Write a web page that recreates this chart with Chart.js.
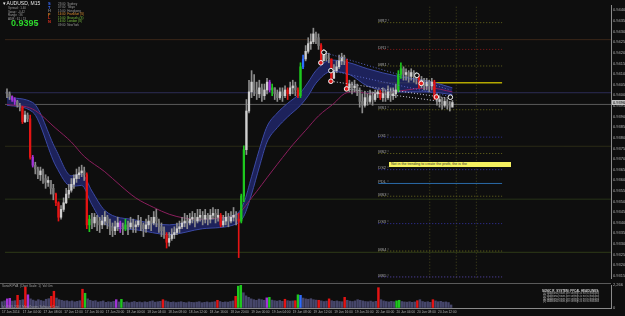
<!DOCTYPE html>
<html><head><meta charset="utf-8">
<script src="https://cdn.jsdelivr.net/npm/chart.js@4.4.1/dist/chart.umd.min.js"></script>
<style>
html,body{margin:0;padding:0;background:#0e0e0e;overflow:hidden;width:625px;height:316px;}
#wrap{position:relative;width:625px;height:316px;font-family:"Liberation Sans","DejaVu Sans",sans-serif;}
#main{position:absolute;left:0;top:0;}
#vol{position:absolute;left:0;top:283px;}
#sep{position:absolute;left:0;top:283px;width:611px;height:1px;background:#5a5a5a;}
.t{position:absolute;white-space:nowrap;line-height:1;}
</style></head><body>
<div id="wrap">
<canvas id="main" width="625" height="283"></canvas>
<canvas id="vol" width="625" height="33"></canvas>
<div id="sep"></div>

<div class="t" style="left:3px;top:1px;font-size:5px;color:#e6e6e6">▾ AUDUSD, M15</div>
<div class="t" style="left:8px;top:7px;font-size:3px;color:#9a9a9a">Spread : 1.40</div>
<div class="t" style="left:8px;top:10.5px;font-size:3px;color:#9a9a9a">Swap : -0.42</div>
<div class="t" style="left:8px;top:14px;font-size:3px;color:#9a9a9a">Range : 36</div>
<div class="t" style="left:8px;top:17.5px;font-size:3px;color:#9a9a9a">ADR : 61 / 13</div>
<div class="t" style="left:11px;top:19px;font-size:9px;font-weight:bold;color:#2bd62b;font-family:'Liberation Sans Narrow','Liberation Sans',sans-serif">0.9395</div>
<div class="t" style="left:35px;top:22px;font-size:4px;color:#d0d0d0">↑</div>
<div class="t" style="left:48px;top:2px;font-size:4px;font-weight:bold;color:#3a6cff">S</div>
<div class="t" style="left:48px;top:5.5px;font-size:4px;font-weight:bold;color:#3a6cff">T</div>
<div class="t" style="left:48px;top:9px;font-size:4px;font-weight:bold;color:#7a7a7a">H</div>
<div class="t" style="left:48px;top:12.5px;font-size:4px;font-weight:bold;color:#e08020">F</div>
<div class="t" style="left:48px;top:16px;font-size:4px;font-weight:bold;color:#e03020">L</div>
<div class="t" style="left:48px;top:19.5px;font-size:4px;font-weight:bold;color:#e03020">N</div>
<div class="t" style="left:58px;top:2.5px;font-size:3px;color:#9a9a9a">23:00 &nbsp;Sydney</div>
<div class="t" style="left:58px;top:6px;font-size:3px;color:#9a9a9a">07:00 &nbsp;Tokyo</div>
<div class="t" style="left:58px;top:9.5px;font-size:3px;color:#9a9a9a">15:00 &nbsp;Hongkong</div>
<div class="t" style="left:58px;top:13px;font-size:3px;color:#e09030">14:00 &nbsp;Frankfurt (S)</div>
<div class="t" style="left:58px;top:16.5px;font-size:3px;color:#7ac040">15:00 &nbsp;Brussels (S)</div>
<div class="t" style="left:58px;top:20px;font-size:3px;color:#7ac040">14:00 &nbsp;London (S)</div>
<div class="t" style="left:58px;top:23.5px;font-size:3px;color:#9a9a9a">09:00 &nbsp;NewYork</div>

<div class="t" style="left:389px;top:162px;width:122px;height:5px;background:#f4f060;"></div>
<div class="t" style="left:391px;top:162.6px;font-size:3.6px;color:#303030">Not in the trending to create the profit, the is the</div>

<div class="t" style="left:2px;top:285px;font-size:3px;color:#a0a0a0">SonicR PVA &nbsp;(Chart Scale: 1) &nbsp;Vol: 0m</div>
<div class="t" style="left:2px;top:305.5px;font-size:3px;color:#9a9a9a">(c) 2001-2014, MetaQuotes Software Corp.</div>
<div class="t" style="left:542px;top:289.5px;font-size:3px;font-weight:bold;color:#d0d0d0">SONIC R. SYSTEM: FFCAL HEADLINES:</div>
<div class="t" style="left:543px;top:293.3px;font-size:2.6px;color:#b0b0b0">[1]: Additional news per settings is not scheduled</div>
<div class="t" style="left:543px;top:296px;font-size:2.6px;color:#b0b0b0">[2]: Additional news per settings is not scheduled</div>
<div class="t" style="left:543px;top:298.7px;font-size:2.6px;color:#b0b0b0">[3]: Additional news per settings is not scheduled</div>
<div class="t" style="left:543px;top:301.4px;font-size:2.6px;color:#b0b0b0">[4]: Additional news per settings is not scheduled</div>
</div>
<script>
// ===== DATA (M15 chart AUDUSD, sampled every 30 min) =====
const timeLabels = ["17 Jun 2014","17 Jun 04:00","17 Jun 08:00","17 Jun 12:00","17 Jun 16:00","17 Jun 20:00","18 Jun 00:00","18 Jun 04:00","18 Jun 08:00","18 Jun 12:00","18 Jun 16:00","18 Jun 20:00","19 Jun 00:00","19 Jun 04:00","19 Jun 08:00","19 Jun 12:00","19 Jun 16:00","19 Jun 20:00","20 Jun 00:00","20 Jun 04:00","20 Jun 08:00","20 Jun 12:00"];
const timeTickIdx = [0,8,16,24,32,40,48,56,64,72,80,88,96,104,112,120,128,136,144,152,160,168];
const priceTicks = [0.94400,0.94350,0.94300,0.94250,0.94200,0.94150,0.94100,0.94050,0.94000,0.93950,0.93900,0.93850,0.93800,0.93750,0.93700,0.93650,0.93600,0.93550,0.93500,0.93450,0.93400,0.93350,0.93300,0.93250,0.93200,0.93150];
const volTicks = [0,2266];

const open = [
0.94016,0.94007,0.93994,0.93980,0.93971,0.93953,0.93944,0.93876,0.93907,0.93889,
0.93708,0.93671,0.93653,0.93626,0.93644,0.93608,0.93590,0.93599,0.93562,0.93535,
0.93494,0.93426,0.93463,0.93494,0.93535,0.93553,0.93581,0.93608,0.93626,0.93635,
0.93644,0.93626,0.93390,0.93417,0.93399,0.93426,0.93408,0.93390,0.93408,0.93426,
0.93399,0.93381,0.93363,0.93381,0.93399,0.93381,0.93372,0.93390,0.93381,0.93399,
0.93381,0.93390,0.93408,0.93390,0.93372,0.93390,0.93408,0.93399,0.93426,0.93408,
0.93381,0.93363,0.93344,0.93308,0.93326,0.93344,0.93354,0.93372,0.93381,0.93399,
0.93408,0.93399,0.93417,0.93426,0.93408,0.93426,0.93435,0.93417,0.93435,0.93417,
0.93435,0.93444,0.93426,0.93435,0.93390,0.93408,0.93426,0.93408,0.93426,0.93435,
0.93417,0.93408,0.93526,0.93744,0.93926,0.94016,0.94062,0.94025,0.94007,0.94035,
0.93998,0.94025,0.94062,0.94025,0.94035,0.94007,0.93989,0.94016,0.93998,0.94025,
0.94007,0.94035,0.94044,0.94025,0.93998,0.94134,0.94171,0.94207,0.94243,0.94252,
0.94289,0.94271,0.94234,0.94162,0.94189,0.94175,0.94171,0.94080,0.94116,0.94134,
0.94162,0.94180,0.94162,0.94035,0.94053,0.94035,0.94044,0.94025,0.93971,0.93953,
0.93989,0.93971,0.93998,0.93980,0.94007,0.94016,0.93989,0.94007,0.93989,0.94016,
0.93998,0.94007,0.94025,0.94098,0.94125,0.94098,0.94107,0.94089,0.94107,0.94089,
0.94080,0.94062,0.94071,0.94044,0.94062,0.94044,0.94062,0.93989,0.93971,0.93980,
0.93953,0.93971,0.93953,0.93944];
const high = [
0.94030,0.94016,0.93998,0.93989,0.93976,0.93962,0.93948,0.93926,0.93917,0.93907,
0.93717,0.93685,0.93662,0.93662,0.93653,0.93626,0.93617,0.93599,0.93581,0.93540,
0.93499,0.93481,0.93517,0.93562,0.93581,0.93608,0.93626,0.93653,0.93662,0.93671,
0.93662,0.93635,0.93435,0.93444,0.93444,0.93435,0.93426,0.93435,0.93453,0.93435,
0.93417,0.93399,0.93408,0.93426,0.93408,0.93399,0.93417,0.93408,0.93426,0.93417,
0.93408,0.93435,0.93426,0.93399,0.93417,0.93435,0.93426,0.93453,0.93463,0.93417,
0.93399,0.93381,0.93354,0.93354,0.93372,0.93381,0.93399,0.93408,0.93426,0.93444,
0.93435,0.93444,0.93453,0.93444,0.93463,0.93463,0.93453,0.93463,0.93444,0.93463,
0.93472,0.93463,0.93463,0.93444,0.93435,0.93453,0.93444,0.93453,0.93472,0.93453,
0.93444,0.93535,0.93762,0.93980,0.94071,0.94116,0.94098,0.94062,0.94071,0.94053,
0.94053,0.94080,0.94071,0.94053,0.94035,0.94025,0.94035,0.94035,0.94044,0.94035,
0.94062,0.94071,0.94062,0.94035,0.94153,0.94189,0.94234,0.94271,0.94289,0.94316,
0.94298,0.94289,0.94243,0.94216,0.94207,0.94198,0.94171,0.94144,0.94162,0.94189,
0.94198,0.94189,0.94171,0.94071,0.94062,0.94071,0.94053,0.94035,0.94007,0.94016,
0.94007,0.94025,0.94016,0.94025,0.94025,0.94025,0.94035,0.94025,0.94044,0.94035,
0.94035,0.94053,0.94116,0.94153,0.94134,0.94125,0.94116,0.94125,0.94116,0.94107,
0.94098,0.94089,0.94080,0.94080,0.94071,0.94080,0.94071,0.94007,0.93998,0.93989,
0.93989,0.93980,0.93971,0.93976];
const low = [
0.93989,0.93980,0.93971,0.93957,0.93944,0.93926,0.93867,0.93871,0.93876,0.93699,
0.93662,0.93630,0.93608,0.93599,0.93585,0.93562,0.93571,0.93535,0.93508,0.93481,
0.93408,0.93417,0.93453,0.93490,0.93517,0.93544,0.93562,0.93590,0.93608,0.93617,
0.93599,0.93372,0.93358,0.93372,0.93381,0.93363,0.93354,0.93372,0.93390,0.93372,
0.93344,0.93335,0.93344,0.93363,0.93354,0.93344,0.93363,0.93344,0.93372,0.93354,
0.93354,0.93381,0.93363,0.93335,0.93354,0.93372,0.93363,0.93390,0.93381,0.93354,
0.93335,0.93326,0.93281,0.93290,0.93317,0.93326,0.93344,0.93354,0.93372,0.93381,
0.93372,0.93390,0.93399,0.93381,0.93399,0.93408,0.93390,0.93399,0.93390,0.93399,
0.93417,0.93399,0.93408,0.93381,0.93381,0.93390,0.93381,0.93399,0.93408,0.93390,
0.93236,0.93399,0.93499,0.93721,0.93917,0.93989,0.93998,0.93980,0.93989,0.93971,
0.93980,0.94007,0.94016,0.93998,0.93980,0.93971,0.93980,0.93971,0.93989,0.93980,
0.93998,0.94007,0.93998,0.93989,0.93989,0.94125,0.94162,0.94198,0.94216,0.94243,
0.94243,0.94216,0.94153,0.94162,0.94162,0.94153,0.94062,0.94080,0.94107,0.94125,
0.94144,0.94144,0.94025,0.94016,0.94007,0.94016,0.93998,0.93944,0.93917,0.93944,
0.93953,0.93962,0.93953,0.93971,0.93989,0.93980,0.93971,0.93971,0.93980,0.93971,
0.93980,0.93989,0.94016,0.94080,0.94071,0.94071,0.94062,0.94071,0.94062,0.94053,
0.94035,0.94035,0.94025,0.94025,0.94016,0.94025,0.93980,0.93953,0.93944,0.93935,
0.93944,0.93935,0.93926,0.93953];
const close = [
0.94007,0.93994,0.93980,0.93971,0.93953,0.93944,0.93876,0.93907,0.93889,0.93708,
0.93671,0.93653,0.93626,0.93644,0.93608,0.93590,0.93599,0.93562,0.93535,0.93494,
0.93426,0.93463,0.93494,0.93535,0.93553,0.93581,0.93608,0.93626,0.93635,0.93644,
0.93626,0.93390,0.93417,0.93399,0.93426,0.93408,0.93390,0.93408,0.93426,0.93399,
0.93381,0.93363,0.93381,0.93399,0.93381,0.93372,0.93390,0.93381,0.93399,0.93381,
0.93390,0.93408,0.93390,0.93372,0.93390,0.93408,0.93399,0.93426,0.93408,0.93381,
0.93363,0.93344,0.93308,0.93326,0.93344,0.93354,0.93372,0.93381,0.93399,0.93408,
0.93399,0.93417,0.93426,0.93408,0.93426,0.93435,0.93417,0.93435,0.93417,0.93435,
0.93444,0.93426,0.93435,0.93390,0.93408,0.93426,0.93408,0.93426,0.93435,0.93417,
0.93408,0.93526,0.93744,0.93926,0.94016,0.94062,0.94025,0.94007,0.94035,0.93998,
0.94025,0.94062,0.94025,0.94035,0.94007,0.93989,0.94016,0.93998,0.94025,0.94007,
0.94035,0.94044,0.94025,0.93998,0.94134,0.94171,0.94207,0.94243,0.94252,0.94289,
0.94271,0.94234,0.94162,0.94189,0.94175,0.94171,0.94080,0.94116,0.94134,0.94162,
0.94180,0.94162,0.94035,0.94053,0.94035,0.94044,0.94025,0.93971,0.93953,0.93989,
0.93971,0.93998,0.93980,0.94007,0.94016,0.93989,0.94007,0.93989,0.94016,0.93998,
0.94007,0.94025,0.94098,0.94125,0.94098,0.94107,0.94089,0.94107,0.94089,0.94080,
0.94062,0.94071,0.94044,0.94062,0.94044,0.94062,0.93989,0.93971,0.93980,0.93953,
0.93971,0.93953,0.93944,0.93966];
const volume = [
620,700,900,950,680,720,1250,760,820,2050,
1300,900,780,690,820,740,680,860,920,1150,
1650,980,820,760,690,720,640,700,610,660,
720,1850,1450,900,760,680,720,590,640,700,
560,620,580,650,820,600,850,560,610,520,
580,640,560,600,540,610,570,640,700,580,
620,660,820,700,620,560,600,540,580,620,
560,520,600,560,540,580,620,520,560,600,
540,580,620,760,640,560,600,580,640,700,
1150,2150,2250,1500,1200,1050,900,820,760,880,
820,760,1000,1050,780,720,680,740,660,860,
720,680,700,720,1300,1250,980,900,860,920,
820,780,760,700,640,680,900,720,660,700,
640,620,1050,760,680,640,700,820,760,700,
640,620,680,600,660,2000,820,700,640,600,
660,620,700,760,640,600,580,620,560,600,
720,820,640,580,620,560,820,700,620,660,
580,600,540,300];
// PVA signal bars (candle indices)
const climaxBars = [6,9,19,20,31,32,46,62,83,90,91,92,103,109,113,114,122,126,132,145,152,153,160,166];
const risingBars = [2,3,10,44,102,115];

// Dragon band (EMA high / EMA low) read at candle indices
const bandIdx  = [0,10,19,25,29,33,38,50,63,76,89,92,95,98,101,105,109,114,117,120,126,133,140,152,164,173];
const bandHigh = [0.93989,0.93966,0.93744,0.93621,0.93630,0.93549,0.93458,0.93413,0.93390,0.93417,0.93440,0.93494,0.93617,0.93744,0.93853,0.93917,0.93962,0.94012,0.94062,0.94116,0.94166,0.94153,0.94125,0.94089,0.94066,0.94035];
const bandLow  = [0.93953,0.93921,0.93667,0.93571,0.93576,0.93485,0.93394,0.93367,0.93344,0.93372,0.93394,0.93431,0.93535,0.93662,0.93780,0.93848,0.93898,0.93953,0.93998,0.94057,0.94112,0.94098,0.94044,0.94016,0.94016,0.94003];
// slow moving average
const maIdx = [0,10,19,25,30,38,44,50,57,63,69,76,82,89,95,103,111,116,121,127,131,135,142,164,173];
const maVal = [0.93957,0.93935,0.93844,0.93780,0.93712,0.93640,0.93576,0.93517,0.93472,0.93440,0.93422,0.93417,0.93422,0.93435,0.93517,0.93644,0.93767,0.93835,0.93903,0.93962,0.94007,0.94016,0.94007,0.94035,0.94016];

// pivot levels
const pivotNames  = ["MR2","DR1","MR1","","MS1","DS1","MS2","DS2","PDL","MS3","DS3","MS4","MS5"];
const pivotLevels = [0.94342,0.94216,0.94138,0.94059,0.93932,0.93803,0.93726,0.93650,0.93585,0.93525,0.93396,0.93267,0.93145];
// full-width levels
const fullLevels = [0.94262,0.94012,0.93957,0.93760,0.93511,0.93261];
// session separators (candle index positions)
const sessionIdx = [164.2,174.5,182.3];
// trend lines [x0, y0, x1, y1]
const trendLines = [[123.1,0.94202,172.3,0.94025],[125.8,0.94116,172.3,0.93994],[125.8,0.94066,172.3,0.93985],[131.9,0.94030,168.5,0.93971]];
// signal circles
const sigIdx   = [123.1,121.9,125.8,125.8,131.9,159.2,160.9,166.8,172.2];
const sigPrice = [0.94202,0.94153,0.94116,0.94066,0.94030,0.94094,0.94056,0.93992,0.93991];
const sigFilled= [false,true,false,true,true,false,true,true,false];

// ===== rendering =====
const XMIN = -0.77, XMAX = 234.6;
const PIV_FROM = 144.2, PIV_TO = 192.3;
const isBull = i => close[i] > open[i];
function pva(i){
  if (climaxBars.includes(i)) return isBull(i) ? '#1ec81e' : '#e41414';
  if (risingBars.includes(i)) return isBull(i) ? '#2f6cff' : '#a234d8';
  return null;
}
const idx = close.map((_, i) => i);
const seg = (x0,y0,x1,y1,color,dash,w,order)=>({type:'line',data:[{x:x0,y:y0},{x:x1,y:y1}],borderColor:color,borderWidth:w||1,borderDash:dash||[],pointRadius:0,fill:false,order:order==null?30:order,tension:0});

const ds = [];
fullLevels.forEach((p,k)=>{
  const cols=['#3a2618','#2c2c55','#5a5a5a','#2a2a16','#283418','#2e3a18'];
  ds.push(seg(XMIN,p,XMAX,p,cols[k],[],1,40));
});
sessionIdx.forEach(x=>ds.push(seg(x,0.9300,x,0.9450,'#45451c',[1,2],1,39)));
pivotLevels.forEach((p,k)=>{
  const n = pivotNames[k];
  let c='#6c6c1e', d=[1,2], w=1;
  if (n==='') { c='#b4a800'; d=[]; w=1.6; }
  else if (n==='DR1') c='#8c1c1c';
  else if (n.startsWith('DS')) c='#3434a8';
  else if (n==='PDL') { c='#2a6aa8'; d=[]; }
  else if (n==='MS5') c='#5a4ab8';
  ds.push(seg(PIV_FROM,p,PIV_TO,p,c,d,w,35));
});
ds.push({type:'line',data:bandIdx.map((x,k)=>({x,y:bandHigh[k]})),borderColor:'#3c4aa4',borderWidth:1,pointRadius:0,cubicInterpolationMode:'monotone',fill:false,order:12});
ds.push({type:'line',data:bandIdx.map((x,k)=>({x,y:bandLow[k]})),borderColor:'#3c4aa4',borderWidth:1,pointRadius:0,cubicInterpolationMode:'monotone',fill:'-1',backgroundColor:'rgba(30,36,98,0.92)',order:12});
ds.push({type:'line',data:maIdx.map((x,k)=>({x,y:maVal[k]})),borderColor:'#8c1f5e',borderWidth:1,pointRadius:0,cubicInterpolationMode:'monotone',fill:false,order:11});
ds.push({type:'bar',data:idx.map(i=>({x:i,y:[low[i],high[i]]})),backgroundColor:idx.map(i=>pva(i)||'#8c8c8c'),barThickness:1,grouped:false,order:3});
ds.push({type:'bar',data:idx.map(i=>({x:i,y:[open[i],close[i]]})),backgroundColor:idx.map(i=>pva(i)||(isBull(i)?'#cfcfcf':'#7a7a7a')),barThickness:1.6,minBarLength:1,grouped:false,order:2});
trendLines.forEach((t,k)=>ds.push(seg(t[0],t[1],t[2],t[3],k<2?'#5a68c8':'#c8c8d8',[1,2],1,1)));
ds.push({type:'line',showLine:false,data:sigIdx.map((x,k)=>({x,y:sigPrice[k]})),pointRadius:2.3,pointBorderWidth:1,pointBorderColor:'#f4f4f4',pointBackgroundColor:sigFilled.map(f=>f?'#e01c1c':'#101010'),order:0});

const textPlugin = {
  id:'texts',
  afterDatasetsDraw(chart){
    const {ctx, scales:{x,y}} = chart;
    ctx.save();
    ctx.font = '4px "Liberation Sans Narrow","Liberation Sans",sans-serif';
    ctx.fillStyle = '#a4a4a4'; ctx.textBaseline='bottom'; ctx.textAlign='left';
    pivotNames.forEach((n,k)=>{ if(n) ctx.fillText(n+' \u00b0', x.getPixelForValue(PIV_FROM), y.getPixelForValue(pivotLevels[k])+0.5); });
    ctx.restore();
  },
  afterDraw(chart){
    const {ctx, scales:{y}} = chart;
    const last = close[close.length-1];
    const py = y.getPixelForValue(last);
    ctx.save();
    ctx.fillStyle='#c4c4c4'; ctx.fillRect(y.left+1, py-2.5, 13, 5);
    ctx.fillStyle='#000'; ctx.font='4px "Liberation Sans Narrow",sans-serif'; ctx.textBaseline='middle';
    ctx.fillText(last.toFixed(5), y.left+2, py);
    ctx.restore();
  }
};

new Chart(document.getElementById('main'), {
  type:'line',
  data:{datasets:ds},
  options:{
    responsive:false, animation:false, devicePixelRatio:1,
    layout:{padding:0},
    plugins:{legend:{display:false},tooltip:{enabled:false}},
    scales:{
      x:{type:'linear',min:XMIN,max:XMAX,display:false,offset:false},
      y:{position:'right',min:0.93140,max:0.94425,
         afterBuildTicks:s=>{s.ticks=priceTicks.map(v=>({value:v}));},
         afterFit:s=>{s.width=14;s.paddingTop=0;s.paddingBottom=0;},
         ticks:{color:'#b0b0b0',font:{size:4,family:'"Liberation Sans Narrow","Liberation Sans",sans-serif'},padding:1,callback:v=>Number(v).toFixed(5)},
         grid:{display:true,drawOnChartArea:false,tickLength:1,color:'#8a8a8a'},
         border:{display:true,color:'#8a8a8a'}}
    }
  },
  plugins:[textPlugin]
});

new Chart(document.getElementById('vol'), {
  type:'bar',
  data:{datasets:[{data:idx.map(i=>({x:i,y:volume[i]})),backgroundColor:idx.map(i=>pva(i)||'#46466a'),barThickness:1.8,grouped:false}]},
  options:{
    responsive:false, animation:false, devicePixelRatio:1,
    layout:{padding:{top:2}},
    plugins:{legend:{display:false},tooltip:{enabled:false}},
    scales:{
      x:{type:'linear',min:XMIN,max:XMAX,offset:false,
         afterBuildTicks:s=>{s.ticks=timeTickIdx.map(v=>({value:v}));},
         afterFit:s=>{s.height=8;s.paddingLeft=0;s.paddingRight=0;},
         ticks:{color:'#b0b0b0',font:{size:3.2,family:'"Liberation Sans","DejaVu Sans",sans-serif'},padding:1,align:'start',maxRotation:0,autoSkip:false,callback:(v,k)=>timeLabels[k]},
         grid:{display:true,drawOnChartArea:false,tickLength:1,color:'#8a8a8a'},
         border:{display:true,color:'#8a8a8a'}},
      y:{position:'right',min:0,max:2266,
         afterBuildTicks:s=>{s.ticks=volTicks.map(v=>({value:v}));},
         afterFit:s=>{s.width=14;s.paddingTop=0;s.paddingBottom=0;},
         ticks:{color:'#b0b0b0',font:{size:4,family:'"Liberation Sans Narrow","Liberation Sans",sans-serif'},padding:1},
         grid:{display:true,drawOnChartArea:false,tickLength:1,color:'#8a8a8a'},
         border:{display:true,color:'#8a8a8a'}}
    }
  }
});
</script>
</body></html>
